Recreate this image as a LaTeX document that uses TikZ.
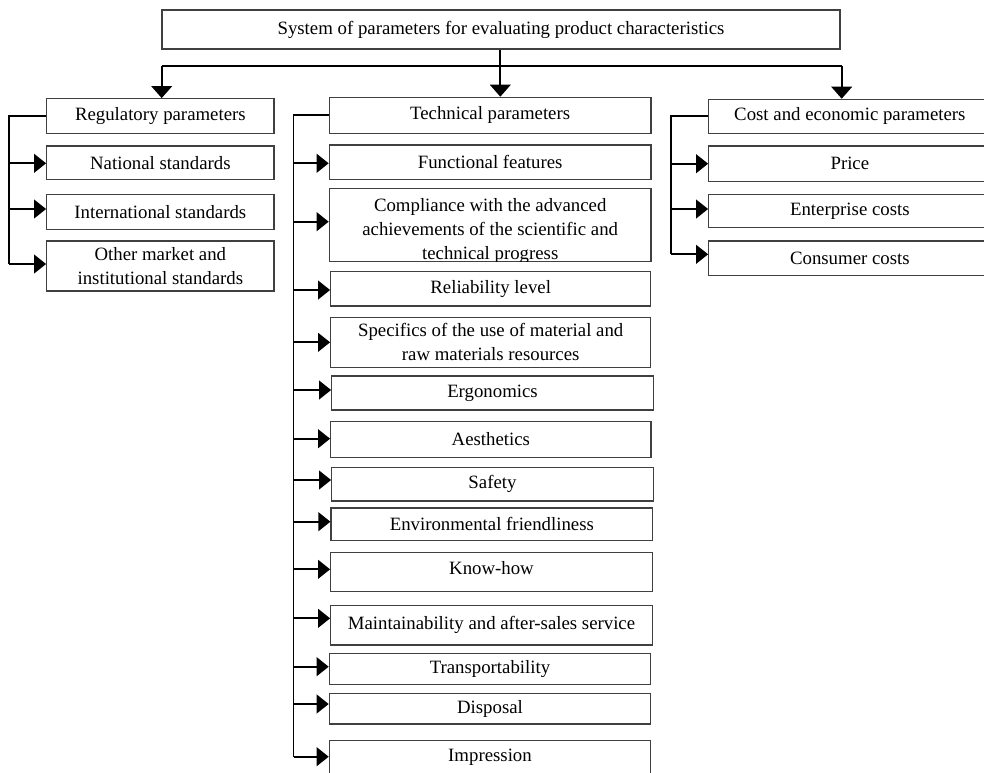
\documentclass[tikz,border=0pt]{standalone}
\usepackage{fontspec}
\setmainfont{Liberation Serif}
\usetikzlibrary{arrows.meta,fit}
\tikzset{
  box/.style={draw=black!75, line width=0.9pt, inner sep=0pt},
  txt/.style={inner sep=0pt, align=center, font=\fontsize{14.1}{18.2}\selectfont},
  conn/.style={line width=1.4pt, black},
  arr/.style={conn, -{Triangle[length=9pt,width=14pt]}},
  darr/.style={conn, -{Triangle[length=9pt,width=15.5pt]}},
}
\newcommand\bx[6]{\node[box, fit={(#2,#3) (#4,#5)}] (#1) {};
  \node[txt] (#1t) at (#1.center) {#6};}
\begin{document}
\begin{tikzpicture}[x=0.75pt,y=-0.75pt]
\clip (0,0) rectangle (984,772);
\fill[white] (0,0) rectangle (984,772);
% top
\bx{top}{162}{10}{840}{49}{System of parameters for evaluating product characteristics}
% left column
\bx{reg}{46.7}{98.7}{274}{133.3}{Regulatory parameters}
\bx{nat}{46.7}{146}{274}{179.3}{National standards}
\bx{intl}{46.7}{194.3}{274}{229.3}{International standards}
\bx{oth}{46.7}{241}{274}{291}{Other market and\\institutional standards}
% middle column
\bx{tech}{329.3}{97.3}{651}{133.3}{Technical parameters}
\bx{func}{329.3}{145}{651}{179.3}{Functional features}
\node[box, fit={(329.3,188.3) (651,261.7)}] (comp) {};
\begin{scope}
  \clip (329.3,188.3) rectangle (651,261.7);
  \node[txt] (compt) at (490.2,231) {Compliance with the advanced\\achievements of the scientific and\\technical progress};
\end{scope}
\bx{rel}{330.7}{271.7}{650.7}{306}{Reliability level}
\bx{spec}{330.7}{317.3}{650.7}{367.3}{Specifics of the use of material and\\raw materials resources}
\bx{ergo}{331.7}{376}{653.3}{410}{Ergonomics}
\bx{aest}{330.7}{421.7}{651}{457.3}{Aesthetics}
\bx{safe}{331.7}{467.3}{653.3}{501}{Safety}
\bx{env}{331}{508}{652.7}{540.7}{Environmental friendliness}
\node[box, fit={(330.7,552.3) (652.3,591.3)}] (know) {};
\node[txt] (knowt) at (491.5,568) {Know-how};
\bx{maint}{330.7}{605.7}{652.3}{645}{Maintainability and after-sales service}
\bx{trans}{329.3}{653.3}{650.7}{684.3}{Transportability}
\bx{disp}{329.3}{693.3}{650.7}{724}{Disposal}
\bx{impr}{329.3}{740.7}{650.7}{774}{Impression}
% right column
\bx{cost}{708.7}{99.3}{991}{133.3}{Cost and economic parameters}
\bx{price}{708.7}{146}{991}{181.7}{Price}
\bx{ent}{708.7}{194.3}{991}{227.7}{Enterprise costs}
\bx{cons}{708.7}{241}{991}{275.3}{Consumer costs}
% top connectors
\coordinate (hl) at (161.7,66.3);
\coordinate (hr) at (841.7,66.3);
\coordinate (hm) at (500.3,66.3);
\draw[conn] (top.south -| hm) -- (hm);
\draw[conn] (hl) -- (hr);
\draw[darr] (hl) -- (hl |- reg.north);
\draw[darr] (hm) -- (hm |- tech.north);
\draw[darr] (hr) -- (hr |- cost.north);
% left bracket
\coordinate (lb) at (9,115.7);
\draw[conn] (reg.west) -- (reg.west -| lb) -- (9,264);
\draw[arr] (9,163.3) -- (nat.west |- 0,163.3);
\draw[arr] (9,209) -- (intl.west |- 0,209);
\draw[arr] (9,264) -- (oth.west |- 0,264);
% middle bracket
\coordinate (tb) at (293.5,115);
\draw[conn] (tech.west |- tb) -- (tb) -- (293.5,756.7);
\draw[arr] (293.5,163.3) -- (func.west |- 0,163.3);
\draw[arr] (293.5,221.7) -- (comp.west |- 0,221.7);
\draw[arr] (293.5,290) -- (rel.west |- 0,290);
\draw[arr] (293.5,342.3) -- (spec.west |- 0,342.3);
\draw[arr] (293.5,390) -- (ergo.west |- 0,390);
\draw[arr] (293.5,438.7) -- (aest.west |- 0,438.7);
\draw[arr] (293.5,480) -- (safe.west |- 0,480);
\draw[arr] (293.5,521.7) -- (env.west |- 0,521.7);
\draw[arr] (293.5,569.3) -- (know.west |- 0,569.3);
\draw[arr] (293.5,618.3) -- (maint.west |- 0,618.3);
\draw[arr] (293.5,666.7) -- (trans.west |- 0,666.7);
\draw[arr] (293.5,704) -- (disp.west |- 0,704);
\draw[arr] (293.5,756.7) -- (impr.west |- 0,756.7);
% right bracket
\coordinate (rb) at (671,116.3);
\draw[conn] (cost.west |- rb) -- (rb) -- (671,254.3);
\draw[arr] (671,163.7) -- (price.west |- 0,163.7);
\draw[arr] (671,209) -- (ent.west |- 0,209);
\draw[arr] (671,254.3) -- (cons.west |- 0,254.3);
\end{tikzpicture}
\end{document}
